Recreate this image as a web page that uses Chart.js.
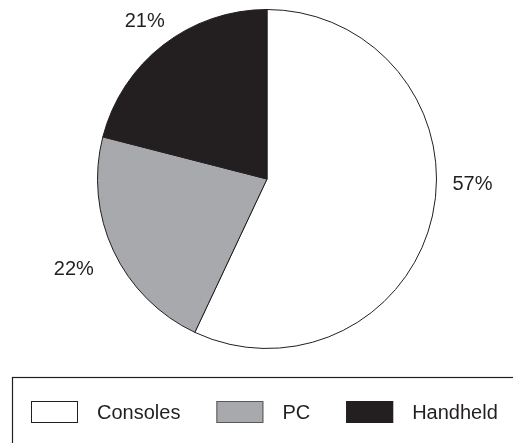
<!DOCTYPE html>
<html>
<head>
<meta charset="utf-8">
<script src="https://cdn.jsdelivr.net/npm/chart.js@4/dist/chart.umd.min.js"></script>
<style>
  body { margin: 0; background: #fff; }
  canvas { display: block; }
</style>
</head>
<body>
<canvas id="pie" width="513" height="443"></canvas>
<script>
const categories = ['Consoles', 'PC', 'Handheld'];
const shares = [57, 22, 21];
const sliceColors = ['#ffffff', '#a7a9ac', '#231f20'];

const ink = '#231f20';
const font = '"Liberation Sans", Arial, sans-serif';

// percent labels sit outside the pie; small turn/gap tweaks per slice
const labelTurn = [-11, 0, 0];
const labelGap = [36, 44, 30];

const outsideLabels = {
    id: 'outsideLabels',
    afterDatasetsDraw(chart) {
        const ctx = chart.ctx;
        const arcs = chart.getDatasetMeta(0).data;
        ctx.save();
        ctx.fillStyle = ink;
        ctx.font = '20px ' + font;
        ctx.textAlign = 'center';
        ctx.textBaseline = 'middle';
        arcs.forEach((arc, i) => {
            const p = arc.getProps(['x', 'y', 'startAngle', 'endAngle', 'outerRadius'], true);
            const mid = (p.startAngle + p.endAngle) / 2 + labelTurn[i] * Math.PI / 180;
            const r = p.outerRadius + labelGap[i];
            ctx.fillText(shares[i] + '%', p.x + Math.cos(mid) * r, p.y + Math.sin(mid) * r);
        });
        ctx.restore();
    }
};

// boxed legend along the bottom, running off the right edge
const boxedLegend = {
    id: 'boxedLegend',
    afterDraw(chart) {
        const ctx = chart.ctx;
        ctx.save();
        ctx.strokeStyle = ink;
        ctx.lineWidth = 1.2;
        ctx.strokeRect(12.5, 377.5, 600, 120);

        ctx.font = '20px ' + font;
        ctx.textBaseline = 'middle';
        let x = 31;
        categories.forEach((name, i) => {
            ctx.fillStyle = sliceColors[i];
            ctx.fillRect(x, 401, 47, 22);
            ctx.lineWidth = 1;
            ctx.strokeStyle = i === 1 ? '#58595b' : ink;
            ctx.strokeRect(x + 0.5, 401.5, 46, 21);
            x += 47 + 19;
            ctx.fillStyle = ink;
            ctx.fillText(name, x, 413);
            x += ctx.measureText(name).width + 36;
        });
        ctx.restore();
    }
};

new Chart(document.getElementById('pie'), {
    type: 'pie',
    data: {
        labels: categories,
        datasets: [{
            data: shares,
            backgroundColor: sliceColors,
            borderColor: ink,
            borderWidth: 1,
            hoverOffset: 0,
            offset: 0
        }]
    },
    options: {
        responsive: false,
        animation: false,
        events: [],
        layout: {
            padding: { top: 9, bottom: 94, left: 97, right: 76 }
        },
        plugins: {
            legend: { display: false },
            tooltip: { enabled: false }
        }
    },
    plugins: [outsideLabels, boxedLegend]
});
</script>
</body>
</html>
